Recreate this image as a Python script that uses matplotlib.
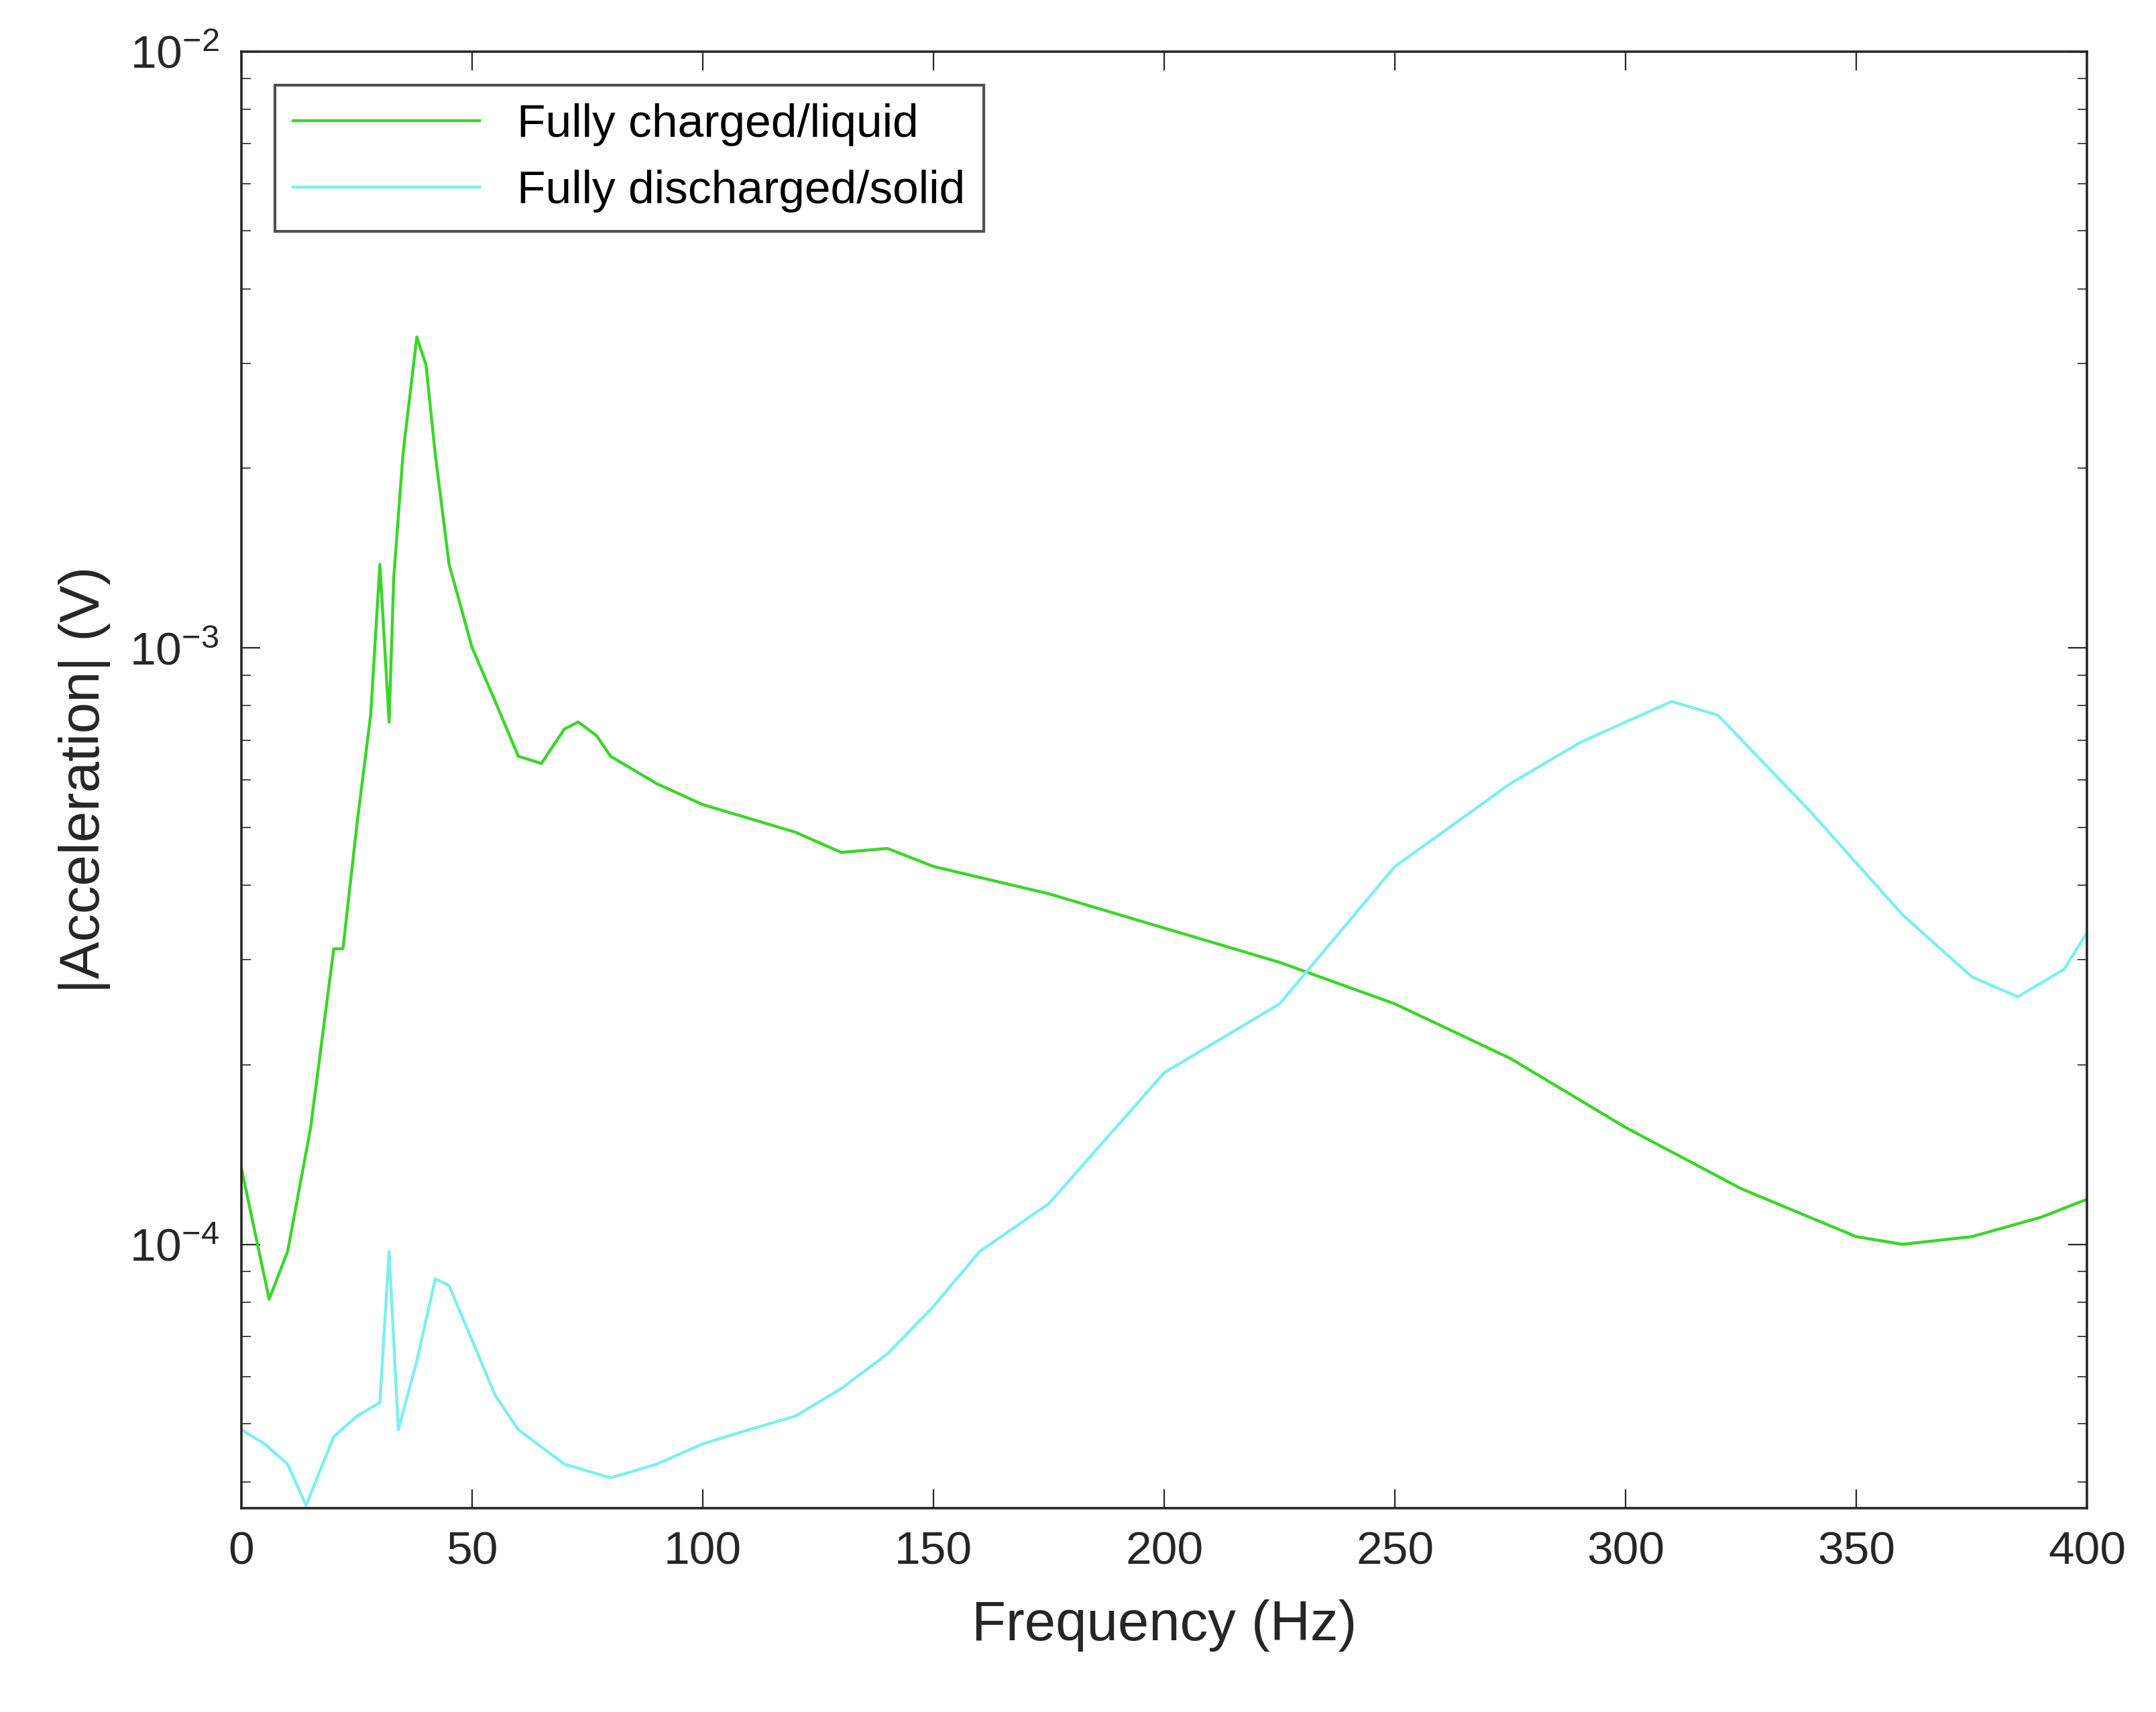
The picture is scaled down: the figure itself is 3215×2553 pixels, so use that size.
import matplotlib
matplotlib.use("Agg")
import matplotlib.pyplot as plt
from matplotlib.ticker import LogLocator, LogFormatterMathtext, MultipleLocator

plt.rcParams["font.family"] = "Liberation Sans"
plt.rcParams["mathtext.fontset"] = "custom"
plt.rcParams["mathtext.rm"] = "Liberation Sans"

freq_liquid = [0, 6, 10, 15, 20, 22, 25, 28, 30, 32, 33, 35, 38, 40, 42, 45, 50, 55, 60, 65, 70, 73, 77, 80,
               90, 100, 120, 130, 140, 150, 175, 200, 225, 250, 275, 300, 325, 350, 360, 375, 390, 400]
acc_liquid = [1.34e-4, 8.09e-5, 9.73e-5, 1.57e-4, 3.13e-4, 3.13e-4, 5.04e-4, 7.71e-4, 1.38e-3, 7.51e-4, 1.31e-3,
              2.11e-3, 3.32e-3, 2.98e-3, 2.11e-3, 1.38e-3, 1.0e-3, 8.13e-4, 6.58e-4, 6.4e-4, 7.31e-4, 7.51e-4,
              7.12e-4, 6.58e-4, 5.92e-4, 5.46e-4, 4.91e-4, 4.54e-4, 4.61e-4, 4.3e-4, 3.87e-4, 3.39e-4, 2.97e-4,
              2.53e-4, 2.05e-4, 1.57e-4, 1.24e-4, 1.03e-4, 1.0e-4, 1.03e-4, 1.11e-4, 1.19e-4]

freq_solid = [0, 5, 10, 14, 20, 25, 30, 32, 34, 38, 42, 45, 50, 55, 60, 70, 80, 90, 100, 110, 120, 130, 140,
              150, 160, 175, 200, 225, 250, 275, 290, 300, 310, 320, 340, 360, 375, 385, 395, 400]
acc_solid = [4.89e-5, 4.63e-5, 4.28e-5, 3.65e-5, 4.76e-5, 5.15e-5, 5.43e-5, 9.73e-5, 4.89e-5, 6.37e-5, 8.75e-5,
             8.53e-5, 6.9e-5, 5.58e-5, 4.89e-5, 4.28e-5, 4.06e-5, 4.28e-5, 4.63e-5, 4.89e-5, 5.15e-5, 5.73e-5,
             6.55e-5, 7.87e-5, 9.73e-5, 1.17e-4, 1.94e-4, 2.53e-4, 4.3e-4, 5.92e-4, 6.93e-4, 7.51e-4, 8.13e-4,
             7.71e-4, 5.32e-4, 3.57e-4, 2.81e-4, 2.6e-4, 2.89e-4, 3.33e-4]

fig = plt.figure(figsize=(16.075, 12.765), dpi=200)
ax = fig.add_axes([0.112, 0.119, 0.856, 0.851])
ax.plot(freq_liquid, acc_liquid, color="#3ad62a", lw=1.6, label="Fully charged/liquid")
ax.plot(freq_solid, acc_solid, color="#7deff0", lw=1.6, label="Fully discharged/solid")
ax.set_yscale("log")
ax.set_xlim(0, 400)
ax.set_ylim(3.61e-5, 1e-2)
ax.xaxis.set_major_locator(MultipleLocator(50))
ax.yaxis.set_major_locator(LogLocator(base=10))
ax.yaxis.set_major_formatter(LogFormatterMathtext())
ax.tick_params(which="both", direction="in", top=True, right=True, labelsize=25, colors="#262626", pad=12)
ax.tick_params(which="major", length=10)
ax.tick_params(which="minor", length=5)
for s in ax.spines.values():
    s.set_color("#262626")
    s.set_linewidth(1.3)
ax.set_xlabel("Frequency (Hz)", fontsize=30, color="#262626", labelpad=14)
ax.set_ylabel("|Acceleration| (V)", fontsize=30, color="#262626", labelpad=10)
leg = ax.legend(loc="upper left", fontsize=25, fancybox=False, edgecolor="#262626",
                bbox_to_anchor=(0.018, 0.977), handlelength=4.0, borderaxespad=0)
leg.get_frame().set_linewidth(1.5)
fig.savefig("out.png", dpi=200)
